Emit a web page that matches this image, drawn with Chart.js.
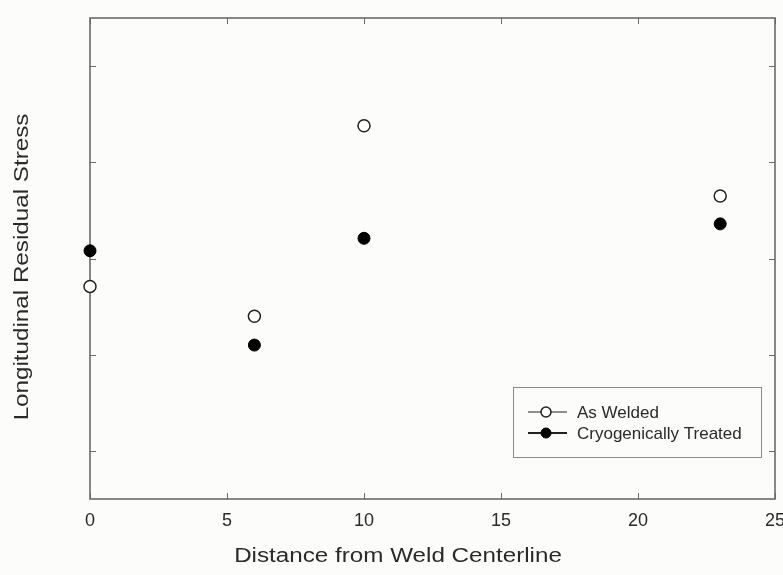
<!DOCTYPE html>
<html lang="en">
<head>
    <meta charset="UTF-8">
    <title>Longitudinal Residual Stress</title>
    <script src="https://cdn.jsdelivr.net/npm/chart.js"></script>
    <style>
        body {
            margin: 0;
            background: #fcfcfa;
        }
        #wrap {
            width: 783px;
            height: 575px;
        }
    </style>
</head>
<body>
    <div id="wrap"><canvas id="stressChart" width="783" height="575"></canvas></div>

    <script>
        // data (y axis has no labels, so units are arbitrary)
        const distances = [0, 6, 10, 23];
        const asWelded = [-29, -60, 138, 65];
        const cryoTreated = [8, -90, 21, 36];
        const xTicks = [0, 5, 10, 15, 20, 25];
        const yTicks = [-200, -100, 0, 100, 200];
        const seriesNames = ['As Welded', 'Cryogenically Treated'];

        const frameColor = '#6a6a6a';
        const textColor = '#2a2a2a';

        function toPoints(values) {
            return distances.map((d, i) => ({ x: d, y: values[i] }));
        }

        // draws stretched text (the original labels are wider than Arial)
        function wideText(ctx, text, x, y, angle, stretch) {
            ctx.save();
            ctx.translate(x, y);
            ctx.rotate(angle);
            ctx.scale(stretch, 1);
            ctx.fillText(text, 0, 0);
            ctx.restore();
        }

        function drawMarker(ctx, ds, x, y, r) {
            ctx.beginPath();
            ctx.arc(x, y, r, 0, Math.PI * 2);
            ctx.fillStyle = ds.pointBackgroundColor;
            ctx.fill();
            ctx.lineWidth = ds.pointBorderWidth;
            ctx.strokeStyle = ds.pointBorderColor;
            ctx.stroke();
        }

        const framePlugin = {
            id: 'frame',
            beforeDatasetsDraw(chart) {
                const { ctx, chartArea: a, scales } = chart;
                ctx.save();
                ctx.strokeStyle = frameColor;
                ctx.lineWidth = 1;
                const tl = 6;
                xTicks.forEach(v => {
                    const px = Math.round(scales.x.getPixelForValue(v)) + 0.5;
                    ctx.beginPath();
                    ctx.moveTo(px, a.bottom); ctx.lineTo(px, a.bottom - tl);
                    ctx.moveTo(px, a.top); ctx.lineTo(px, a.top + tl);
                    ctx.stroke();
                });
                yTicks.forEach(v => {
                    const py = Math.round(scales.y.getPixelForValue(v)) + 0.5;
                    ctx.beginPath();
                    ctx.moveTo(a.left, py); ctx.lineTo(a.left + tl, py);
                    ctx.moveTo(a.right, py); ctx.lineTo(a.right - tl, py);
                    ctx.stroke();
                });
                ctx.lineWidth = 1.6;
                ctx.strokeRect(a.left, a.top, a.right - a.left, a.bottom - a.top);
                ctx.restore();
            },
            afterDraw(chart) {
                const { ctx, chartArea: a } = chart;
                ctx.save();
                ctx.fillStyle = textColor;
                ctx.font = '20px "Liberation Sans", Arial, sans-serif';
                ctx.textAlign = 'center';
                ctx.textBaseline = 'alphabetic';
                wideText(ctx, 'Distance from Weld Centerline', 398, 562, 0, 1.21);
                wideText(ctx, 'Longitudinal Residual Stress', 28, 267, -Math.PI / 2, 1.21);

                // legend box inside the plot, lower right
                const bx = a.right - 262, by = a.bottom - 112, bw = 248, bh = 70;
                ctx.fillStyle = '#fcfcfa';
                ctx.fillRect(bx, by, bw, bh);
                ctx.strokeStyle = '#8a8a8a';
                ctx.lineWidth = 1;
                ctx.strokeRect(bx + 0.5, by + 0.5, bw, bh);
                ctx.font = '17px "Liberation Sans", Arial, sans-serif';
                ctx.textAlign = 'left';
                ctx.textBaseline = 'middle';
                chart.data.datasets.forEach((ds, i) => {
                    const cy = by + 25 + i * 21;
                    ctx.strokeStyle = '#222';
                    ctx.lineWidth = i === 0 ? 1 : 2;
                    ctx.beginPath();
                    ctx.moveTo(bx + 15, cy);
                    ctx.lineTo(bx + 54, cy);
                    ctx.stroke();
                    drawMarker(ctx, ds, bx + 33, cy, 5);
                    ctx.fillStyle = textColor;
                    ctx.fillText(ds.label, bx + 64, cy + 1);
                });
                ctx.restore();
            }
        };

        new Chart(document.getElementById('stressChart'), {
            type: 'scatter',
            data: {
                datasets: [{
                    label: seriesNames[0],
                    data: toPoints(asWelded),
                    pointRadius: 6,
                    pointBackgroundColor: '#ffffff',
                    pointBorderColor: '#222222',
                    pointBorderWidth: 1.5,
                    clip: false
                }, {
                    label: seriesNames[1],
                    data: toPoints(cryoTreated),
                    pointRadius: 6,
                    pointBackgroundColor: '#000000',
                    pointBorderColor: '#000000',
                    pointBorderWidth: 1,
                    clip: false
                }]
            },
            options: {
                responsive: false,
                animation: false,
                layout: { padding: { top: 18, right: 8, left: 0, bottom: 0 } },
                plugins: {
                    legend: { display: false },
                    tooltip: { enabled: false }
                },
                scales: {
                    x: {
                        type: 'linear',
                        min: 0,
                        max: 25,
                        afterBuildTicks: scale => {
                            scale.ticks = xTicks.map(v => ({ value: v }));
                        },
                        ticks: {
                            color: textColor,
                            padding: 11,
                            maxRotation: 0,
                            font: { family: '"Liberation Sans", Arial, sans-serif', size: 18 }
                        },
                        grid: { display: false, drawTicks: false },
                        border: { display: false },
                        afterFit: scale => {
                            scale.height = 76;
                            scale.paddingLeft = 0;
                            scale.paddingRight = 0;
                        }
                    },
                    y: {
                        type: 'linear',
                        min: -250,
                        max: 250,
                        ticks: { display: false },
                        grid: { display: false, drawTicks: false },
                        border: { display: false },
                        afterFit: scale => {
                            scale.width = 90;
                            scale.paddingTop = 0;
                            scale.paddingBottom = 0;
                        }
                    }
                }
            },
            plugins: [framePlugin]
        });
    </script>
</body>
</html>
